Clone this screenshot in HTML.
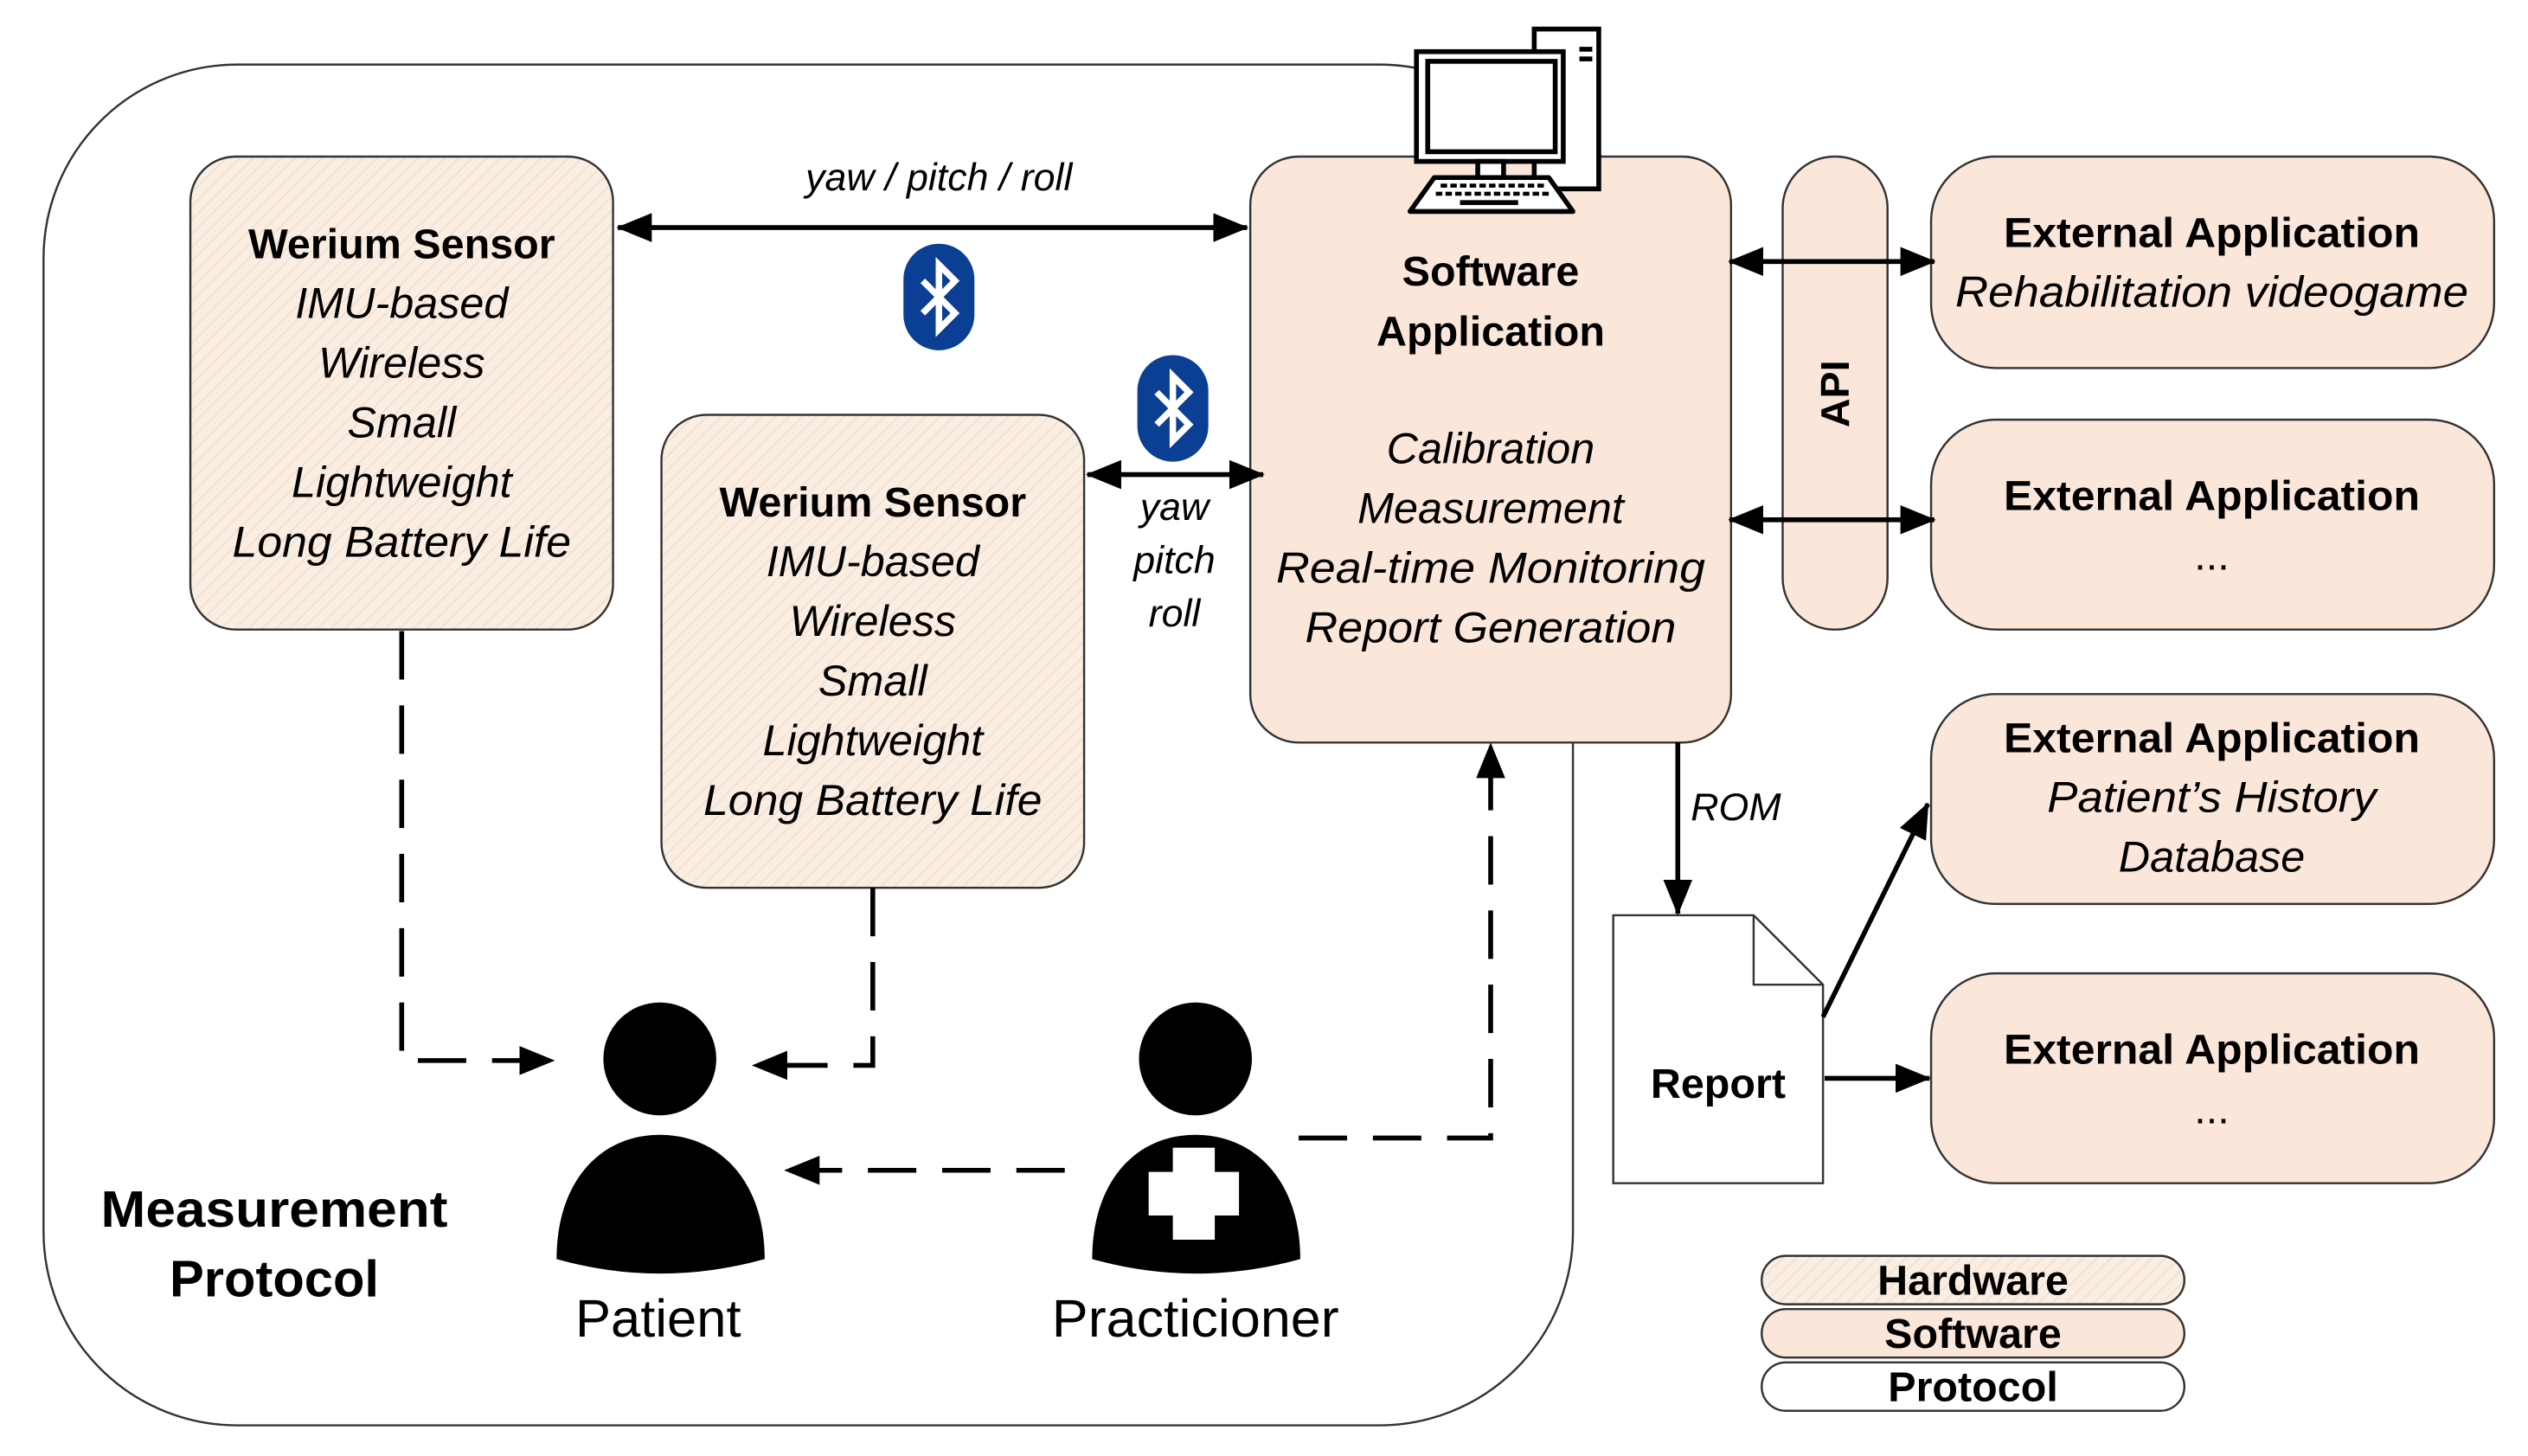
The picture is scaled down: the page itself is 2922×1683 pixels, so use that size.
<!DOCTYPE html>
<html><head><meta charset="utf-8"><style>
html,body{margin:0;padding:0;background:#fff;}
svg{display:block;}
text{font-family:"Liberation Sans",sans-serif;}
</style></head><body>
<svg width="2922" height="1683" viewBox="0 0 1567 902" preserveAspectRatio="none" xmlns="http://www.w3.org/2000/svg">
<defs>
<pattern id="hatch" width="6" height="6" patternUnits="userSpaceOnUse" patternTransform="rotate(45)">
<rect width="6" height="6" fill="#faeee3"/>
<line x1="0" y1="0" x2="0" y2="6" stroke="#f0dccb" stroke-width="1.5"/>
</pattern>
<marker id="ahb" markerWidth="22" markerHeight="18" refX="21" refY="9" orient="auto-start-reverse" markerUnits="userSpaceOnUse">
<path d="M0,0 L22,9 L0,18Z" fill="#000"/>
</marker>
<g id="bt">
<rect x="0" y="0" width="44" height="66" rx="22" fill="#0b3f94"/>
<path d="M12,23 L32,43 L22,53 L22,13 L32,23 L12,43" fill="none" stroke="#fff" stroke-width="4" stroke-linejoin="miter"/>
</g>
</defs>

<rect x="27" y="40" width="948" height="843" rx="120" fill="#fff" stroke="#333" stroke-width="1.3"/>

<rect x="118" y="97" width="262" height="293" rx="28" fill="url(#hatch)" stroke="#333" stroke-width="1.3"/>
<g font-size="26" text-anchor="middle">
<text x="249" y="160" font-weight="bold">Werium Sensor</text>
<g font-style="italic" font-size="27">
<text x="249" y="197">IMU-based</text>
<text x="249" y="234">Wireless</text>
<text x="249" y="271">Small</text>
<text x="249" y="308">Lightweight</text>
<text x="249" y="345" textLength="210" lengthAdjust="spacingAndGlyphs">Long Battery Life</text>
</g></g>
<rect x="410" y="257" width="262" height="293" rx="28" fill="url(#hatch)" stroke="#333" stroke-width="1.3"/>
<g font-size="26" text-anchor="middle">
<text x="541" y="320" font-weight="bold">Werium Sensor</text>
<g font-style="italic" font-size="27">
<text x="541" y="357">IMU-based</text>
<text x="541" y="394">Wireless</text>
<text x="541" y="431">Small</text>
<text x="541" y="468">Lightweight</text>
<text x="541" y="505" textLength="210" lengthAdjust="spacingAndGlyphs">Long Battery Life</text>
</g></g>

<rect x="775" y="97" width="298" height="363" rx="30" fill="#fbe7da" stroke="#333" stroke-width="1.3"/>
<g font-size="26" text-anchor="middle">
<text x="924" y="177" font-weight="bold">Software</text>
<text x="924" y="214" font-weight="bold">Application</text>
<g font-style="italic" font-size="27">
<text x="924" y="287">Calibration</text>
<text x="924" y="324">Measurement</text>
<text x="924" y="361" textLength="266" lengthAdjust="spacingAndGlyphs">Real-time Monitoring</text>
<text x="924" y="398" textLength="230" lengthAdjust="spacingAndGlyphs">Report Generation</text>
</g></g>

<rect x="951" y="18" width="40" height="99" fill="#fff" stroke="#000" stroke-width="3"/>
<rect x="979" y="29" width="8" height="3" fill="#000"/><rect x="979" y="35" width="8" height="3" fill="#000"/>
<rect x="878" y="32" width="91" height="68" fill="#fff" stroke="#000" stroke-width="3"/>
<rect x="885" y="38" width="79" height="56" fill="#fff" stroke="#000" stroke-width="3"/>
<rect x="916" y="100" width="16" height="10" fill="#fff" stroke="#000" stroke-width="3"/>
<path d="M889,110 L960,110 L975,131 L874,131Z" fill="#fff" stroke="#000" stroke-width="3" stroke-linejoin="round"/>
<g stroke="#000" stroke-width="2.5" stroke-dasharray="4,2">
<line x1="893" y1="115" x2="957" y2="115"/><line x1="890" y1="120" x2="962" y2="120"/>
</g>
<rect x="905" y="124" width="36" height="3" fill="#000"/>

<rect x="1105" y="97" width="65" height="293" rx="32" fill="#fbe7da" stroke="#333" stroke-width="1.3"/>
<text x="0" y="0" font-size="25" font-weight="bold" text-anchor="middle" transform="translate(1146,244) rotate(-90)">API</text>

<g fill="#fbe7da" stroke="#333" stroke-width="1.3">
<rect x="1197" y="97" width="349" height="131" rx="40"/>
<rect x="1197" y="260" width="349" height="130" rx="40"/>
<rect x="1197" y="430" width="349" height="130" rx="40"/>
<rect x="1197" y="603" width="349" height="130" rx="40"/>
</g>
<g font-size="26" text-anchor="middle">
<text x="1371" y="153" font-weight="bold" textLength="258" lengthAdjust="spacingAndGlyphs">External Application</text>
<text x="1371" y="190" font-style="italic" font-size="27" textLength="318" lengthAdjust="spacingAndGlyphs">Rehabilitation videogame</text>
<text x="1371" y="316" font-weight="bold" textLength="258" lengthAdjust="spacingAndGlyphs">External Application</text>
<text x="1371" y="353">...</text>
<text x="1371" y="466" font-weight="bold" textLength="258" lengthAdjust="spacingAndGlyphs">External Application</text>
<text x="1371" y="503" font-style="italic" font-size="27" textLength="204" lengthAdjust="spacingAndGlyphs">Patient’s History</text>
<text x="1371" y="540" font-style="italic" font-size="27">Database</text>
<text x="1371" y="659" font-weight="bold" textLength="258" lengthAdjust="spacingAndGlyphs">External Application</text>
<text x="1371" y="696">...</text>
</g>

<path d="M1000,567 L1087,567 L1130,610 L1130,733 L1000,733Z" fill="#fff" stroke="#333" stroke-width="1.3"/>
<path d="M1087,567 L1087,610 L1130,610" fill="none" stroke="#333" stroke-width="1.3"/>
<text x="1065" y="680" font-size="26" font-weight="bold" text-anchor="middle">Report</text>

<rect x="1092" y="778" width="262" height="30" rx="15" fill="url(#hatch)" stroke="#333" stroke-width="1.3"/>
<rect x="1092" y="811" width="262" height="30" rx="15" fill="#fbe7da" stroke="#333" stroke-width="1.3"/>
<rect x="1092" y="844" width="262" height="30" rx="15" fill="#fff" stroke="#333" stroke-width="1.3"/>
<g font-size="26" font-weight="bold" text-anchor="middle">
<text x="1223" y="802">Hardware</text>
<text x="1223" y="835">Software</text>
<text x="1223" y="868">Protocol</text>
</g>

<g stroke="#000" stroke-width="3" fill="none">
<line x1="383" y1="141" x2="773" y2="141" marker-start="url(#ahb)" marker-end="url(#ahb)"/>
<line x1="674" y1="294" x2="783" y2="294" marker-start="url(#ahb)" marker-end="url(#ahb)"/>
<line x1="1072" y1="162" x2="1199" y2="162" marker-start="url(#ahb)" marker-end="url(#ahb)"/>
<line x1="1072" y1="322" x2="1199" y2="322" marker-start="url(#ahb)" marker-end="url(#ahb)"/>
<line x1="1040" y1="460" x2="1040" y2="566" marker-end="url(#ahb)"/>
<line x1="1130" y1="630" x2="1195" y2="498" marker-end="url(#ahb)"/>
<line x1="1131" y1="668" x2="1196" y2="668" marker-end="url(#ahb)"/>
</g>
<g font-size="24" font-style="italic" text-anchor="middle">
<text x="582" y="118">yaw / pitch / roll</text>
<text x="728" y="322">yaw</text>
<text x="728" y="355">pitch</text>
<text x="728" y="388">roll</text>
<text x="1076" y="508">ROM</text>
</g>
<use href="#bt" x="560" y="151"/>
<use href="#bt" x="705" y="220"/>

<g stroke="#000" stroke-width="3" fill="none" stroke-dasharray="30,16">
<path d="M249,391 L249,657 L343,657" marker-end="url(#ahb)"/>
<path d="M541,550 L541,660 L467,660" marker-end="url(#ahb)"/>
<path d="M660,725 L487,725" marker-end="url(#ahb)"/>
<path d="M805,705 L924,705 L924,461" marker-end="url(#ahb)"/>
</g>

<g fill="#000">
<circle cx="409" cy="656" r="35"/>
<path d="M345,780 C345,732 372,703 409,703 C446,703 474,732 474,780 Q409,798 345,780Z"/>
<circle cx="741" cy="656" r="35"/>
<path d="M677,780 C677,732 704,703 741,703 C778,703 806,732 806,780 Q741,798 677,780Z"/>
</g>
<g fill="#fff">
<rect x="727" y="711" width="26" height="57"/>
<rect x="712" y="726" width="56" height="27"/>
</g>
<g font-size="33" text-anchor="middle">
<text x="408" y="828">Patient</text>
<text x="741" y="828" textLength="178" lengthAdjust="spacingAndGlyphs">Practicioner</text>
</g>
<g font-size="32" font-weight="bold" text-anchor="middle">
<text x="170" y="760" textLength="215" lengthAdjust="spacingAndGlyphs">Measurement</text>
<text x="170" y="803">Protocol</text>
</g>
</svg>
</body></html>
